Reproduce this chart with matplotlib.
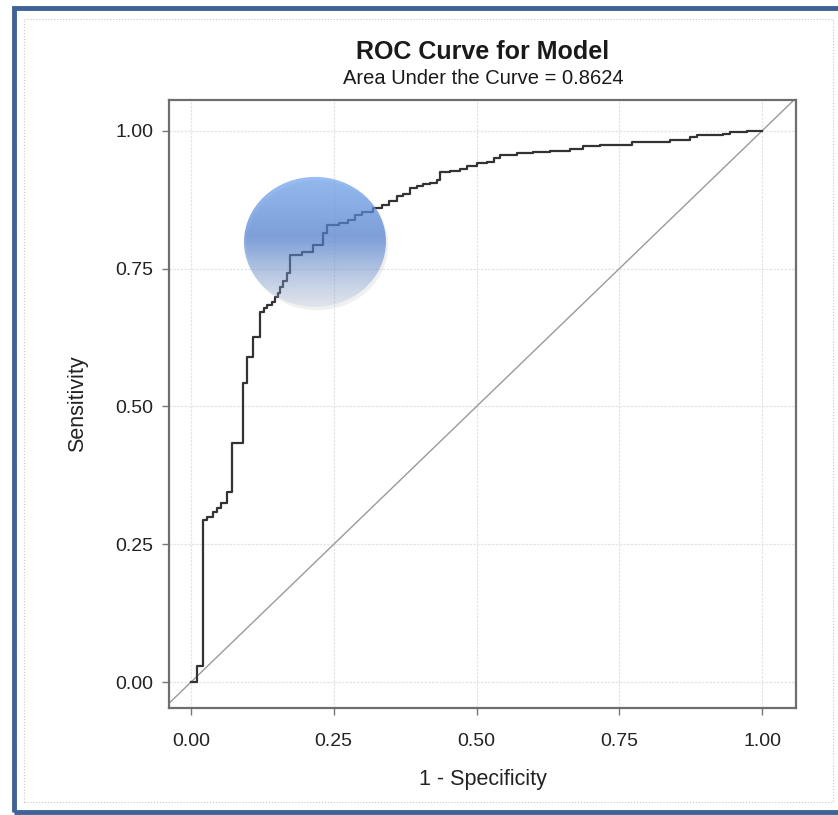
import numpy as np
import matplotlib
matplotlib.use("Agg")
from matplotlib import pyplot as plt
from matplotlib.patches import Ellipse, Rectangle

plt.rcParams['font.family'] = ['Liberation Sans', 'DejaVu Sans']

# ROC curve corners, drawn as a post-step line
fpr = [0.000, 0.010, 0.021, 0.028, 0.039, 0.046, 0.053, 0.063, 0.072, 0.0905,
       0.0975, 0.109, 0.121, 0.127, 0.133, 0.141, 0.147, 0.153, 0.156, 0.162,
       0.168, 0.173, 0.194, 0.214, 0.232, 0.238, 0.260, 0.275, 0.287, 0.300,
       0.319, 0.335, 0.347, 0.360, 0.372, 0.384, 0.395, 0.406, 0.418, 0.430,
       0.436, 0.454, 0.471, 0.483, 0.501, 0.518, 0.530, 0.541, 0.571, 0.599,
       0.629, 0.664, 0.687, 0.716, 0.772, 0.839, 0.874, 0.886, 0.932, 0.944,
       0.974, 1.000]
tpr = [0.000, 0.030, 0.294, 0.300, 0.309, 0.316, 0.325, 0.345, 0.434, 0.543,
       0.590, 0.626, 0.672, 0.678, 0.684, 0.690, 0.699, 0.705, 0.717, 0.727,
       0.743, 0.775, 0.781, 0.793, 0.814, 0.829, 0.833, 0.838, 0.848, 0.852,
       0.860, 0.866, 0.873, 0.881, 0.886, 0.896, 0.900, 0.903, 0.906, 0.911,
       0.926, 0.928, 0.931, 0.937, 0.941, 0.943, 0.950, 0.957, 0.959, 0.961,
       0.964, 0.967, 0.972, 0.975, 0.980, 0.984, 0.988, 0.993, 0.994, 0.998,
       1.000, 1.000]
tick_vals = [0.0, 0.25, 0.5, 0.75, 1.0]
tick_labels = ["0.00", "0.25", "0.50", "0.75", "1.00"]
auc = 0.8624

fig = plt.figure(figsize=(8.38, 8.15), dpi=100)
fig.patch.set_facecolor("white")

# blue frame + faint dotted inner frame
fig.add_artist(Rectangle((14 / 838, 1 - 812 / 815), 1.2, (812 - 8) / 815,
                         transform=fig.transFigure, fill=False,
                         edgecolor="#3e6396", linewidth=3.5))
fig.add_artist(Rectangle((24 / 838, 1 - 802 / 815), (833 - 24) / 838, (802 - 19) / 815,
                         transform=fig.transFigure, fill=False,
                         edgecolor="#c8c8c8", linewidth=0.8, linestyle=":"))

ax = fig.add_axes([169 / 838, 1 - 708 / 815, (796 - 169) / 838, (708 - 100) / 815])
ax.set_xlim(-0.0385, 1.0595)
ax.set_ylim(-0.047, 1.056)

ax.grid(True, color="#e4e4e4", linewidth=0.9, linestyle=(0, (2, 1)))
ax.set_axisbelow(True)

ax.plot([-0.0385, 1.0595], [-0.0385, 1.0595], color="#9a9a9a", linewidth=1.0)
ax.plot(fpr, tpr, drawstyle="steps-post", color="#333333", linewidth=1.6, zorder=3)

ax.set_xticks(tick_vals)
ax.set_xticklabels(tick_labels)
ax.set_yticks(tick_vals)
ax.set_yticklabels(tick_labels)
ax.tick_params(axis="both", direction="out", length=5, width=1, color="#777777",
               labelsize=14, labelcolor="#222222")
ax.tick_params(axis="x", pad=13)
ax.tick_params(axis="y", pad=6)
for s in ax.spines.values():
    s.set_color("#6e6e6e")
    s.set_linewidth(1.6)

ax.set_xlabel("1 - Specificity", fontsize=15.5, color="#222222", labelpad=14)
ax.set_ylabel("Sensitivity", fontsize=15.5, color="#222222", labelpad=20)

fig.text(483 / 838, 1 - 52 / 815, "ROC Curve for Model", ha="center", va="center",
         fontsize=18, fontweight="bold", color="#1a1a1a")
fig.text(483 / 838, 1 - 79 / 815, f"Area Under the Curve = {auc:.4f}", ha="center",
         va="center", fontsize=14.5, color="#1a1a1a")

# translucent blue highlight ellipse over the knee of the curve
cx, cy = (315 - 191) / 571, (682 - 242) / 551
ew, eh = 142 / 571, 130 / 551
n = 200
t = np.linspace(0, 1, n)[:, None]  # 0 = top, 1 = bottom
top = np.array([105, 160, 238]) / 255
mid = np.array([68, 118, 204]) / 255
bot = np.array([110, 145, 205]) / 255
rgb = np.where(t < 0.5, top + (mid - top) * (t / 0.5), mid + (bot - mid) * ((t - 0.5) / 0.5))
alpha = np.where(t < 0.45, 0.68, 0.68 - 0.56 * ((t - 0.45) / 0.55))
img = np.concatenate([rgb, alpha], axis=1)[:, None, :].repeat(4, axis=1)
shadow = Ellipse((cx + 0.004, cy - 0.006), ew, eh, facecolor="#b8b8b8", alpha=0.2,
                 edgecolor="none", zorder=4)
ax.add_patch(shadow)
ell = Ellipse((cx, cy), ew, eh, facecolor="none", edgecolor="none", zorder=5)
ax.add_patch(ell)
im = ax.imshow(img, extent=[cx - ew / 2, cx + ew / 2, cy - eh / 2, cy + eh / 2],
               aspect="auto", zorder=5, interpolation="bilinear")
im.set_clip_path(ell)

fig.savefig("out.png", dpi=100)
